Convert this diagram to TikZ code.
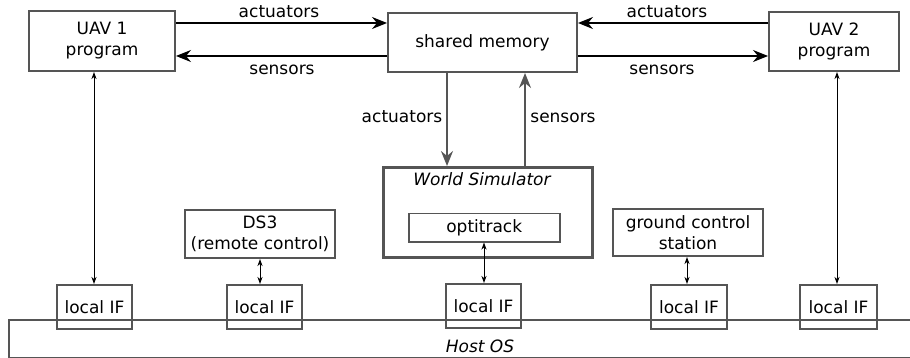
\documentclass[tikz,border=0pt]{standalone}
\usepackage{fontspec}
\setmainfont{DejaVu Sans}
\usetikzlibrary{arrows.meta}
\definecolor{boxgray}{HTML}{555555}
\tikzset{
  box/.style={draw=boxgray, line width=2pt, inner sep=0pt, align=center, anchor=north west},
  bigarrow/.style={line width=1.2pt, -{Stealth[length=15pt,width=12pt,inset=5pt]}},
  grayarrow/.style={draw=boxgray, line width=1.8pt, -{Stealth[length=15pt,width=12pt,inset=5pt]}, color=boxgray},
  smallarrow/.style={line width=1pt, {Stealth[length=7pt,width=5pt,inset=2pt]}-{Stealth[length=7pt,width=5pt,inset=2pt]}},
  lbl/.style={anchor=base, inner sep=0pt},
}
\begin{document}
\begin{tikzpicture}[x=1pt,y=-1pt,font=\fontsize{17}{21}\selectfont]
\useasboundingbox (0,0) rectangle (910,358);
% boxes
\node[box, minimum width=146pt, minimum height=60pt] (uav1) at (28,10) {UAV 1\\program};
\node[box, minimum width=189pt, minimum height=59pt] (sm) at (387,12) {shared memory};
\node[box, minimum width=130pt, minimum height=59pt] (uav2) at (768,11) {UAV 2\\program};
\node[box, line width=3pt, minimum width=209pt, minimum height=90pt] (ws) at (382,166) {};
\node[lbl] (wstitle) at (482,186) {\itshape World Simulator};
\node[box, line width=1.5pt, minimum width=151pt, minimum height=28pt] (opt) at (408,213) {optitrack};
\node[box, minimum width=150pt, minimum height=48pt] (ds3) at (184,209) {DS3\\(remote control)};
\node[box, minimum width=150pt, minimum height=47pt] (gcs) at (612,208) {ground control\\station};
\node[box, minimum width=944pt, minimum height=38pt] (host) at (8,319) {};
\node[lbl] (hosttext) at (480,352) {\itshape Host OS};
\node[box, minimum width=75pt, minimum height=44pt] (lif1) at (56,284) {local IF};
\node[box, minimum width=75pt, minimum height=44pt] (lif2) at (226,284) {local IF};
\node[box, minimum width=75pt, minimum height=44pt] (lif3) at (445,283) {local IF};
\node[box, minimum width=76pt, minimum height=44pt] (lif4) at (650,284) {local IF};
\node[box, minimum width=77pt, minimum height=44pt] (lif5) at (799,284) {local IF};
% horizontal arrows
\draw[bigarrow] (uav1.east |- 0,23) -- (sm.west |- 0,23);
\draw[bigarrow] (sm.west |- 0,56) -- (uav1.east |- 0,56);
\draw[bigarrow] (uav2.west |- 0,23) -- (sm.east |- 0,23);
\draw[bigarrow] (sm.east |- 0,56) -- (uav2.west |- 0,56);
\node[lbl] (l1) at (279,18) {actuators};
\node[lbl] (l2) at (282,75) {sensors};
\node[lbl] (l3) at (667,18) {actuators};
\node[lbl] (l4) at (662,75) {sensors};
% vertical arrows sm <-> ws
\draw[grayarrow] (sm.south -| 447,0) -- (ws.north -| 447,0);
\draw[grayarrow] (ws.north -| 525,0) -- (sm.south -| 525,0);
\node[lbl] (l5) at (402,123) {actuators};
\node[lbl] (l6) at (563,123) {sensors};
% small double arrows
\draw[smallarrow] (uav1.south -| 94,0) -- (lif1.north -| 94,0);
\draw[smallarrow] (uav2.south -| 837,0) -- (lif5.north -| 837,0);
\draw[smallarrow] (ds3.south -| 260,0) -- (lif2.north -| 260,0);
\draw[smallarrow] (opt.south -| 484,0) -- (lif3.north -| 484,0);
\draw[smallarrow] (gcs.south -| 687,0) -- (lif4.north -| 687,0);
\end{tikzpicture}
\end{document}
